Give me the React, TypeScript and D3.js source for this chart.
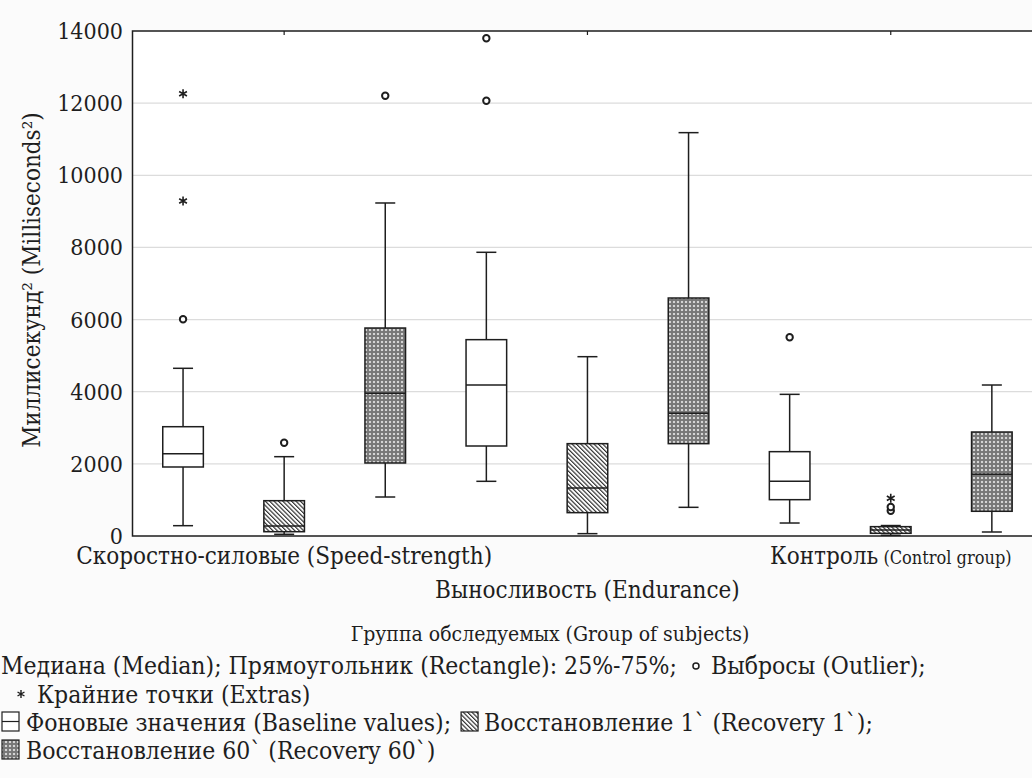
import React, { useEffect, useRef } from 'react';
import * as d3 from 'd3';

// groups of subjects and the three measurement conditions
const GROUPS = ['Скоростно-силовые (Speed-strength)', 'Выносливость (Endurance)', 'Контроль'];
const GROUP_NOTE = ['', '', '(Control group)'];
const GROUP_ROW = [0, 1, 0];

// one entry per box, in drawing order (group x condition)
const BOX_GROUP = [0, 0, 0, 1, 1, 1, 2, 2, 2];
const BOX_COND = [0, 1, 2, 0, 1, 2, 0, 1, 2];
const WHISKER_LO = [286, 47, 1081, 1516, 65, 795, 360, 20, 111];
const Q1 = [1913, 119, 2024, 2495, 647, 2560, 1007, 74, 685];
const MEDIAN = [2282, 277, 3956, 4186, 1331, 3400, 1516, 166, 1710];
const Q3 = [3030, 979, 5766, 5443, 2560, 6598, 2338, 259, 2883];
const WHISKER_HI = [4649, 2199, 9232, 7865, 4971, 11182, 3927, 290, 4186];
const OUTLIERS = [[6007], [2587], [12207], [12068, 13797], [], [], [5508], [701, 804], []];
const EXTREMES = [[9287, 12262], [], [], [], [], [], [], [1045], []];

const Y_TICKS = [0, 2000, 4000, 6000, 8000, 10000, 12000, 14000];

const Y_TITLE = 'Миллисекунд² (Milliseconds²)';
const X_TITLE = 'Группа обследуемых (Group of subjects)';
const LEGEND_1A = 'Медиана (Median); Прямоугольник (Rectangle): 25%-75%;';
const LEGEND_1B = 'Выбросы (Outlier);';
const LEGEND_2 = 'Крайние точки (Extras)';
const LEGEND_3A = 'Фоновые значения (Baseline values);';
const LEGEND_3B = 'Восстановление 1` (Recovery 1`);';
const LEGEND_4 = 'Восстановление 60` (Recovery 60`)';

const FONT = 'DejaVu Serif Condensed, DejaVu Serif, serif';
const INK = '#1e1e1e';

export default function App() {
  const svgRef = useRef<SVGSVGElement | null>(null);

  const W = 1032;
  const H = 778;
  const PLOT = { left: 132.5, top: 31, bottom: 536, step: 101.1 };
  const plotRight = PLOT.left + PLOT.step * BOX_GROUP.length;

  useEffect(() => {
    document.body.style.margin = '0';
    const svg = d3.select(svgRef.current);
    svg.selectAll('*').remove();
    svg.style('font-family', FONT).style('font-stretch', 'condensed');

    const x = d3.scaleBand<number>()
      .domain(d3.range(BOX_GROUP.length))
      .range([PLOT.left, plotRight]);
    const xg = d3.scaleBand<number>()
      .domain(d3.range(GROUPS.length))
      .range([PLOT.left, plotRight]);
    const y = d3.scaleLinear().domain([0, 14000]).range([PLOT.bottom, PLOT.top]);

    const boxW = 40.6;
    const capW = 20;

    // fill patterns
    const defs = svg.append('defs');
    const hatch = defs.append('pattern')
      .attr('id', 'hatch')
      .attr('patternUnits', 'userSpaceOnUse')
      .attr('width', 3.1)
      .attr('height', 3.1)
      .attr('patternTransform', 'rotate(-45)');
    hatch.append('rect').attr('width', 3.1).attr('height', 3.1).attr('fill', '#fff');
    hatch.append('line')
      .attr('x1', 0.6).attr('x2', 0.6).attr('y1', 0).attr('y2', 3.1)
      .attr('stroke', '#222').attr('stroke-width', 1.1);

    const cross = defs.append('pattern')
      .attr('id', 'cross')
      .attr('patternUnits', 'userSpaceOnUse')
      .attr('width', 4)
      .attr('height', 4);
    cross.append('rect').attr('width', 4).attr('height', 4).attr('fill', '#777');
    cross.append('path')
      .attr('d', 'M2,0.7L3.3,2L2,3.3L0.7,2Z')
      .attr('fill', '#f6f6f6');

    const fillFor = (c: number) => (c === 0 ? '#fff' : c === 1 ? 'url(#hatch)' : 'url(#cross)');

    svg.append('rect').attr('width', W).attr('height', H).attr('fill', '#fbfbfb');
    svg.append('rect')
      .attr('x', PLOT.left).attr('y', PLOT.top)
      .attr('width', plotRight - PLOT.left).attr('height', PLOT.bottom - PLOT.top)
      .attr('fill', '#fff');

    // grid
    svg.append('g')
      .selectAll('line')
      .data(Y_TICKS.filter(t => t > 0 && t < 14000))
      .join('line')
      .attr('x1', PLOT.left).attr('x2', plotRight)
      .attr('y1', d => y(d)).attr('y2', d => y(d))
      .attr('stroke', '#dcdcdc').attr('stroke-width', 1.2);

    // y tick labels
    svg.append('g')
      .selectAll('text')
      .data(Y_TICKS)
      .join('text')
      .attr('x', 123)
      .attr('y', d => y(d) + 8)
      .attr('text-anchor', 'end')
      .attr('font-size', 23)
      .attr('fill', INK)
      .text(d => d);

    // boxes
    const boxes = svg.append('g')
      .selectAll('g')
      .data(d3.range(BOX_GROUP.length))
      .join('g');

    boxes.append('line')
      .attr('x1', i => x(i)! + x.bandwidth() / 2)
      .attr('x2', i => x(i)! + x.bandwidth() / 2)
      .attr('y1', i => y(WHISKER_LO[i]))
      .attr('y2', i => y(WHISKER_HI[i]))
      .attr('stroke', INK).attr('stroke-width', 1.5);
    [WHISKER_LO, WHISKER_HI].forEach(arr => {
      boxes.append('line')
        .attr('x1', i => x(i)! + x.bandwidth() / 2 - capW / 2)
        .attr('x2', i => x(i)! + x.bandwidth() / 2 + capW / 2)
        .attr('y1', i => y(arr[i]))
        .attr('y2', i => y(arr[i]))
        .attr('stroke', INK).attr('stroke-width', 1.5);
    });
    boxes.append('rect')
      .attr('x', i => x(i)! + x.bandwidth() / 2 - boxW / 2)
      .attr('y', i => y(Q3[i]))
      .attr('width', boxW)
      .attr('height', i => y(Q1[i]) - y(Q3[i]))
      .attr('fill', i => fillFor(BOX_COND[i]))
      .attr('stroke', INK).attr('stroke-width', 1.5);
    boxes.append('line')
      .attr('x1', i => x(i)! + x.bandwidth() / 2 - boxW / 2)
      .attr('x2', i => x(i)! + x.bandwidth() / 2 + boxW / 2)
      .attr('y1', i => y(MEDIAN[i]))
      .attr('y2', i => y(MEDIAN[i]))
      .attr('stroke', INK).attr('stroke-width', 1.5);

    // outliers
    const outl = BOX_GROUP.flatMap((_, i) => OUTLIERS[i].map(v => ({ i, v })));
    svg.append('g')
      .selectAll('circle')
      .data(outl)
      .join('circle')
      .attr('cx', d => x(d.i)! + x.bandwidth() / 2)
      .attr('cy', d => y(d.v))
      .attr('r', 3.2)
      .attr('fill', '#fff')
      .attr('stroke', INK).attr('stroke-width', 2);

    // extremes (asterisk)
    const star = (r: number) => {
      const p = d3.path();
      for (let k = 0; k < 3; k++) {
        const a = Math.PI / 2 + k * Math.PI / 3;
        p.moveTo(Math.cos(a) * r, Math.sin(a) * r);
        p.lineTo(-Math.cos(a) * r, -Math.sin(a) * r);
      }
      return p.toString();
    };
    const extr = BOX_GROUP.flatMap((_, i) => EXTREMES[i].map(v => ({ i, v })));
    svg.append('g')
      .selectAll('path')
      .data(extr)
      .join('path')
      .attr('transform', d => `translate(${x(d.i)! + x.bandwidth() / 2},${y(d.v)})`)
      .attr('d', star(4.5))
      .attr('stroke', INK).attr('stroke-width', 1.6);

    // frame
    svg.append('path')
      .attr('d', `M${plotRight},${PLOT.top}H${PLOT.left}V${PLOT.bottom}H${plotRight}`)
      .attr('fill', 'none')
      .attr('stroke', INK).attr('stroke-width', 1.5);

    // group ticks on top
    svg.append('g')
      .selectAll('line')
      .data(d3.range(GROUPS.length))
      .join('line')
      .attr('x1', g => xg(g)! + xg.bandwidth() / 2)
      .attr('x2', g => xg(g)! + xg.bandwidth() / 2)
      .attr('y1', PLOT.top).attr('y2', PLOT.top + 4)
      .attr('stroke', INK).attr('stroke-width', 1.2);

    // group labels (staggered)
    const gl = svg.append('g')
      .selectAll('text')
      .data(d3.range(GROUPS.length))
      .join('text')
      .attr('x', g => xg(g)! + xg.bandwidth() / 2)
      .attr('y', g => 564 + GROUP_ROW[g] * 34)
      .attr('text-anchor', 'middle')
      .attr('font-size', 24)
      .attr('fill', INK);
    gl.append('tspan').text(g => GROUPS[g]);
    gl.append('tspan').attr('font-size', 18).text(g => (GROUP_NOTE[g] ? ' ' + GROUP_NOTE[g] : ''));

    // axis titles
    svg.append('text')
      .attr('x', 550)
      .attr('y', 641)
      .attr('text-anchor', 'middle')
      .attr('font-size', 21)
      .attr('fill', INK)
      .text(X_TITLE);

    svg.append('text')
      .attr('transform', 'translate(40,280) rotate(-90)')
      .attr('text-anchor', 'middle')
      .attr('font-size', 24)
      .attr('fill', INK)
      .text(Y_TITLE);

    // legend
    const leg = svg.append('g')
      .attr('font-size', 24.5)
      .attr('fill', INK);
    const addText = (tx: number, ty: number, s: string) => {
      const t = leg.append('text').attr('x', tx).attr('y', ty).text(s);
      return tx + (t.node() as SVGTextElement).getComputedTextLength();
    };

    const l1 = [674, 703, 731, 759];
    let end = addText(1, l1[0], LEGEND_1A);
    leg.append('circle')
      .attr('cx', end + 19).attr('cy', l1[0] - 8).attr('r', 3)
      .attr('fill', '#fff').attr('stroke', INK).attr('stroke-width', 1.5);
    addText(end + 34, l1[0], LEGEND_1B);

    leg.append('path')
      .attr('transform', `translate(21,${l1[1] - 9})`)
      .attr('d', star(4))
      .attr('stroke', INK).attr('stroke-width', 1.4);
    addText(37, l1[1], LEGEND_2);

    const icon = (ix: number, ty: number, c: number) => {
      leg.append('rect')
        .attr('x', ix).attr('y', ty - 19).attr('width', 17).attr('height', 19)
        .attr('fill', fillFor(c))
        .attr('stroke', INK).attr('stroke-width', 1.2);
      if (c === 0) {
        leg.append('line')
          .attr('x1', ix).attr('x2', ix + 17)
          .attr('y1', ty - 9.5).attr('y2', ty - 9.5)
          .attr('stroke', INK).attr('stroke-width', 1.2);
      }
    };
    icon(2, l1[2], 0);
    end = addText(26, l1[2], LEGEND_3A);
    icon(end + 10, l1[2], 1);
    addText(end + 33, l1[2], LEGEND_3B);
    icon(2, l1[3], 2);
    addText(26, l1[3], LEGEND_4);
  }, []);

  return <svg ref={svgRef} width={W} height={H} style={{ display: 'block' }} />;
}
